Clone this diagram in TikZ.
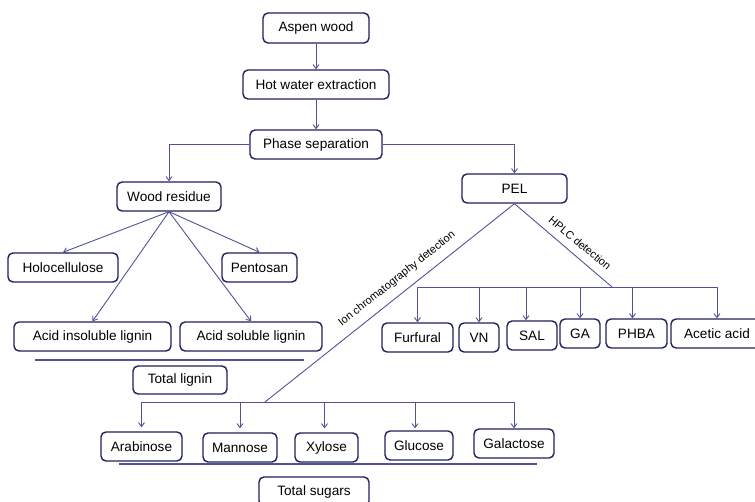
\documentclass[tikz,border=0pt]{standalone}
\usepackage{fontspec}
\setmainfont{Liberation Sans}
\usetikzlibrary{arrows.meta}
\definecolor{boxblue}{RGB}{32,32,92}
\definecolor{lineblue}{RGB}{82,82,150}

\begin{document}
\begin{tikzpicture}[x=1pt,y=-1pt,
  box/.style={draw=boxblue,line width=1.4pt,rounded corners=5pt,minimum height=29pt,inner sep=0pt,font=\fontsize{13.6}{16}\selectfont},
  link/.style={draw=lineblue,line width=0.9pt},
  arr/.style={link,-{Straight Barb[length=4pt,width=6pt]}},
  sep/.style={draw=lineblue,line width=1.3pt},
  lab/.style={inner sep=0pt,font=\fontsize{11}{13}\selectfont}]
  \useasboundingbox (0,0) rectangle (755,501);

  %top
  \node[box,minimum width=106pt,minimum height=30pt] (aspen) at (316,28) {Aspen wood};
  \node[box,minimum width=146pt] (hotwater) at (316,84.5) {Hot water extraction};
  \node[box,minimum width=132pt] (phase) at (316,144.5) {Phase separation};
  \draw[arr] (aspen) -- (hotwater);
  \draw[arr] (hotwater) -- (phase);

  %left
  \node[box,minimum width=104pt] (wood) at (169,196.5) {Wood residue};
  \node[box,minimum width=110pt] (holo) at (63,267.5) {Holocellulose};
  \node[box,minimum width=75pt] (pento) at (259.5,267.5) {Pentosan};
  \node[box,minimum width=157pt] (ail) at (92.5,336.5) {Acid insoluble lignin};
  \node[box,minimum width=142pt] (asl) at (251,336.5) {Acid soluble lignin};
  \node[box,minimum width=94pt,minimum height=28pt] (totlig) at (180,380) {Total lignin};
  \draw[arr] (phase.west) -| (wood.north);
  \draw[arr] (wood.south) -- (holo.north);
  \draw[arr] (wood.south) -- (pento.north);
  \draw[arr] (wood.south) -- (ail.north);
  \draw[arr] (wood.south) -- (asl.north);
  \draw[sep] (35,360) -- (304,360);

  %right
  \node[box,minimum width=105pt] (pel) at (514.5,188.5) {PEL};
  \draw[arr] (phase.east) -| (pel.north);
  \coordinate (hplc) at (612,287);
  \coordinate (ion) at (265,402);
  \draw[link] (pel.south) -- (hplc);
  \draw[link] (pel.south) -- (ion);
  \node[lab,rotate=-40] (hplclab) at (580,243) {HPLC detection};
  \node[lab,rotate=38.5] (ionlab) at (397,279) {Ion chromatography detection};

  %HPLC products
  \node[box,minimum width=71pt] (furfural) at (417.5,337.5) {Furfural};
  \node[box,minimum width=40pt] (vn) at (479,337.5) {VN};
  \node[box,minimum width=50pt] (sal) at (532,335.5) {SAL};
  \node[box,minimum width=40pt] (ga) at (580,333.5) {GA};
  \node[box,minimum width=61pt] (phba) at (636.5,333.5) {PHBA};
  \node[box,minimum width=92pt] (acetic) at (717,333.5) {Acetic acid};
  \draw[link] (furfural.north |- hplc) -- (acetic.north |- hplc);
  \draw[arr] (furfural.north |- hplc) -- (furfural.north);
  \draw[arr] (vn.north |- hplc) -- (vn.north);
  \draw[arr] ([xshift=-6pt]sal.north |- hplc) -- ([xshift=-6pt]sal.north);
  \draw[arr] (ga.north |- hplc) -- (ga.north);
  \draw[arr] ([xshift=-4pt]phba.north |- hplc) -- ([xshift=-4pt]phba.north);
  \draw[arr] (acetic.north |- hplc) -- (acetic.north);

  %sugars
  \node[box,minimum width=81pt] (arab) at (141.5,446.5) {Arabinose};
  \node[box,minimum width=74pt] (mann) at (240,447.5) {Mannose};
  \node[box,minimum width=63pt] (xyl) at (326.5,447.5) {Xylose};
  \node[box,minimum width=68pt] (gluc) at (419,445.5) {Glucose};
  \node[box,minimum width=80pt] (galac) at (514,443.5) {Galactose};
  \node[box,minimum width=110pt] (totsug) at (314,491.5) {Total sugars};
  \draw[link] (arab.north |- ion) -- (galac.north |- ion);
  \draw[arr,shorten >=4pt] (arab.north |- ion) -- (arab.north);
  \draw[arr,shorten >=4pt] (mann.north |- ion) -- (mann.north);
  \draw[arr,shorten >=4pt] ([xshift=-2pt]xyl.north |- ion) -- ([xshift=-2pt]xyl.north);
  \draw[arr,shorten >=2pt] ([xshift=-4pt]gluc.north |- ion) -- ([xshift=-4pt]gluc.north);
  \draw[arr] (galac.north |- ion) -- (galac.north);
  \draw[sep] (119,464) -- (537,464);
\end{tikzpicture}
\end{document}
